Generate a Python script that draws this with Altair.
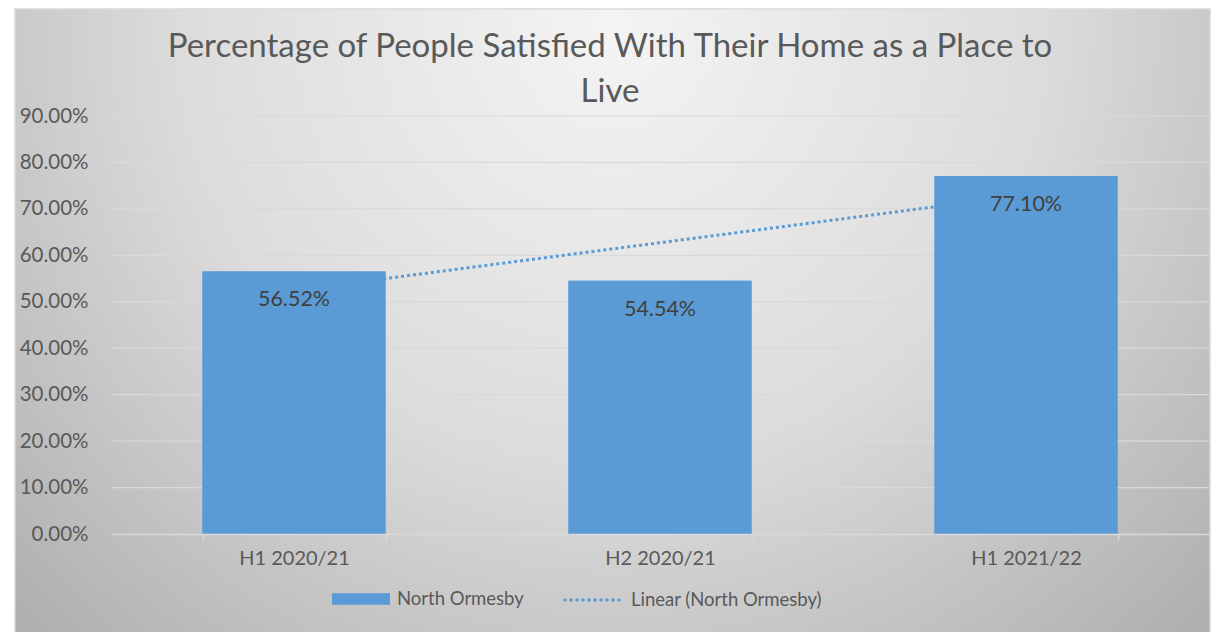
import altair as alt
import numpy as np
import pandas as pd

categories = ["H1 2020/21", "H2 2020/21", "H1 2021/22"]
values = [0.5652, 0.5454, 0.7710]
series_name = "North Ormesby"
trend_name = "Linear (North Ormesby)"
grid_values = [0.1, 0.2, 0.3, 0.4, 0.5, 0.6, 0.7, 0.8, 0.9]

idx = np.arange(1, len(values) + 1)
slope, intercept = np.polyfit(idx, values, 1)
trend = list(slope * idx + intercept)

df = pd.DataFrame({"cat": categories, "val": values, "series": series_name})
tdf = pd.DataFrame({"cat": categories, "trend": trend, "tname": trend_name})
gdf = pd.DataFrame({"g": grid_values})

W, H = 1098, 418
PL, PT, PR, PB = 103, 108, 3, 100

FONT = "Lato"
BLUE = "#5B9BD5"
GRID = "#d9d9d9"

xenc = alt.X("cat:N", sort=categories, title=None,
             scale=alt.Scale(paddingInner=0.5, paddingOuter=0.25),
             axis=alt.Axis(labelAngle=0, labelFontSize=20, labelColor="#595959",
                           labelFont=FONT, domainColor=GRID, domainWidth=1.5,
                           tickColor=GRID, tickWidth=1.5, tickSize=6,
                           tickBand="extent", labelPadding=8, grid=False, zindex=1))
yscale = alt.Scale(domain=[0, 0.9])
yaxis = alt.Axis(format=".2%", values=[i / 10 for i in range(10)],
                 labelFontSize=20.5, labelColor="#595959", labelFont=FONT,
                 labelPadding=23, domain=False, ticks=False, grid=False, zindex=1)

bg = alt.Chart(pd.DataFrame({"a": [0]})).mark_rect(
    fill=alt.RadialGradient(
        gradient="radial", x1=0.5, y1=0.25, r1=0.0, x2=0.5, y2=0.25, r2=0.8,
        stops=[alt.GradientStop(offset=0, color="#f4f4f4"),
               alt.GradientStop(offset=0.45, color="#dcdcdc"),
               alt.GradientStop(offset=1, color="#a2a2a2")]),
    stroke=GRID, strokeWidth=1.5,
).encode(x=alt.value(-96), x2=alt.value(W + 1), y=alt.value(-107), y2=alt.value(H + 110))

grid = alt.Chart(gdf).mark_rule(color=GRID, strokeWidth=1.2).encode(
    y=alt.Y("g:Q", scale=yscale, title=None, axis=yaxis)
)

bar_color = alt.Color("series:N", scale=alt.Scale(domain=[series_name], range=[BLUE]),
                      legend=alt.Legend(title=None, orient="none", legendX=221, legendY=454,
                                        symbolType="M-1,-0.2H1V0.2H-1Z", symbolSize=3364,
                                        symbolStrokeWidth=0, symbolOpacity=1, labelOffset=7,
                                        labelFont=FONT, labelFontSize=18.5,
                                        labelColor="#595959"))

bars_under = alt.Chart(df).mark_bar(size=183).encode(
    x=xenc, y=alt.Y("val:Q", scale=yscale, title=None, axis=yaxis), color=bar_color,
)

line = alt.Chart(tdf).mark_line(color=BLUE, strokeWidth=3, strokeCap="butt").encode(
    x=xenc,
    y=alt.Y("trend:Q", scale=yscale),
    strokeDash=alt.StrokeDash("tname:N",
                              scale=alt.Scale(domain=[trend_name], range=[[3, 3]]),
                              legend=alt.Legend(title=None, orient="none", legendX=451, legendY=454,
                                                symbolType="stroke", symbolSize=3249,
                                                symbolStrokeColor=BLUE, symbolStrokeWidth=3,
                                                labelOffset=9,
                                                labelFont=FONT, labelFontSize=18.5,
                                                labelColor="#595959", labelLimit=400)),
)

bars = alt.Chart(df).mark_bar(size=183).encode(
    x=xenc, y=alt.Y("val:Q", scale=yscale, title=None, axis=yaxis), color=bar_color,
)

labels = alt.Chart(df).mark_text(font=FONT, fontSize=21.5, color="#404040", dy=29).encode(
    x=xenc,
    y=alt.Y("val:Q", scale=yscale),
    text=alt.Text("val:Q", format=".2%"),
)

chart = alt.layer(bg, grid, bars_under, line, bars, labels).properties(
    width=W, height=H,
    autosize=alt.AutoSizeParams(type="none"),
    padding={"left": PL, "top": PT, "right": PR, "bottom": PB},
    title=alt.Title(["Percentage of People Satisfied With Their Home as a Place to", "Live"],
                    fontSize=33, font=FONT, fontWeight="normal", color="#595959",
                    lineHeight=45, anchor="middle", dx=-50, dy=113, offset=12, zindex=1),
).configure_view(stroke=None).configure(background="white")

chart.save("out.html", embed_options={"renderer": "svg", "actions": False})
